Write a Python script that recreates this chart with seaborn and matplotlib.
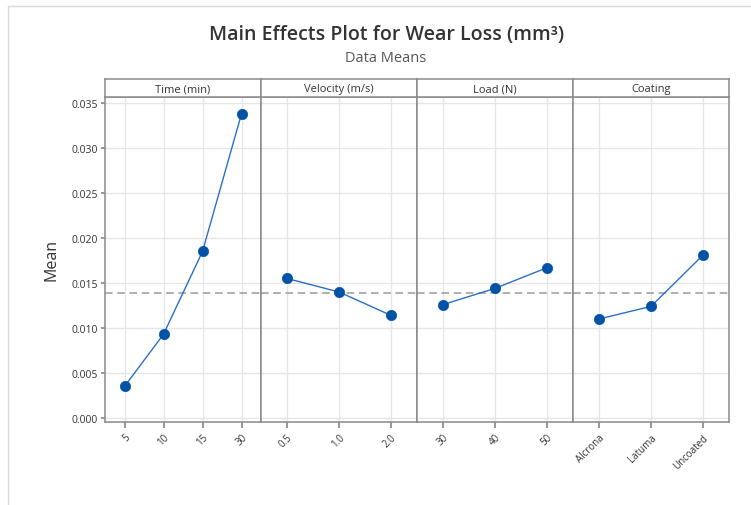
import matplotlib
matplotlib.use("Agg")
import matplotlib.pyplot as plt
import seaborn as sns
import pandas as pd
from matplotlib.lines import Line2D

# ---- data ----
factors = ["Time (min)", "Velocity (m/s)", "Load (N)", "Coating"]
time_levels = ["5", "10", "15", "30"]
time_means = [0.0035, 0.0093, 0.0185, 0.0338]
velocity_levels = ["0.5", "1.0", "2.0"]
velocity_means = [0.0155, 0.0140, 0.0114]
load_levels = ["30", "40", "50"]
load_means = [0.0126, 0.0144, 0.0167]
coating_levels = ["Alcrona", "Latuma", "Uncoated"]
coating_means = [0.0110, 0.0124, 0.0181]
grand_mean = 0.0139
y_ticks = [0.000, 0.005, 0.010, 0.015, 0.020, 0.025, 0.030, 0.035]

levels = [time_levels, velocity_levels, load_levels, coating_levels]
means = [time_means, velocity_means, load_means, coating_means]

rows = []
for f, lv, mv in zip(factors, levels, means):
    for l, m in zip(lv, mv):
        rows.append({"factor": f, "level": l, "mean": m})
df = pd.DataFrame(rows)

sns.set_theme(style="white")
plt.rcParams["font.family"] = ["Open Sans", "DejaVu Sans"]

W, H = 751, 506
fig = plt.figure(figsize=(W / 100, H / 100), dpi=100)

# outer frame lines
fig.add_artist(Line2D([8 / W, 8 / W], [0, 1 - 7 / H], color="#d9d9d9", lw=1))
fig.add_artist(Line2D([8 / W, 1], [1 - 7 / H, 1 - 7 / H], color="#d9d9d9", lw=1))

left_px, right_px = 105, 729
top_px, bottom_px = 98, 423
strip_top = 80
pw = (right_px - left_px) / 4
frame_col = "#8a8a8a"
grid_col = "#e6e6e6"
ymin, ymax = -0.00045, 0.03567

axes = []
for i, f in enumerate(factors):
    x0 = (left_px + i * pw) / W
    ax = fig.add_axes([x0, 1 - bottom_px / H, pw / W, (bottom_px - top_px) / H])
    sub = df[df["factor"] == f]
    ax.axhline(grand_mean, color="#9a9a9a", ls=(0, (5, 3)), lw=1.1, zorder=1)
    sns.lineplot(data=sub, x="level", y="mean", ax=ax, color="#2a6fc4",
                 lw=1.0, sort=False, zorder=2)
    sns.scatterplot(data=sub, x="level", y="mean", ax=ax, color="#0052a5",
                    s=55, edgecolor="#0052a5", linewidth=0.5, zorder=3)
    n = len(sub)
    ax.set_xlim(-0.5, n - 0.5)
    ax.set_ylim(ymin, ymax)
    ax.set_yticks(y_ticks)
    ax.set_xticks(range(n))
    ax.set_xticklabels(list(sub["level"]), rotation=45, ha="right",
                       rotation_mode="anchor", fontsize=7, color="#333333")
    ax.grid(True, color=grid_col, lw=1)
    ax.set_axisbelow(True)
    ax.set_xlabel("")
    ax.set_ylabel("")
    for s in ax.spines.values():
        s.set_color(frame_col)
        s.set_linewidth(1.1)
    ax.tick_params(axis="x", length=4, color=frame_col, pad=3, bottom=True)
    if i == 0:
        ax.set_yticklabels([f"{v:.3f}" for v in y_ticks], fontsize=7.5, color="#333333")
        ax.tick_params(axis="y", length=3, color=frame_col, pad=2, left=True)
    else:
        ax.tick_params(axis="y", left=False, labelleft=False)
    # strip
    sax = fig.add_axes([x0, 1 - top_px / H, pw / W, (top_px - strip_top) / H])
    sax.set_xticks([])
    sax.set_yticks([])
    sax.set_facecolor("white")
    for s in sax.spines.values():
        s.set_color(frame_col)
        s.set_linewidth(1.1)
    sax.text(0.5, 0.45, f, ha="center", va="center", fontsize=8, color="#333333",
             transform=sax.transAxes)
    axes.append(ax)

fig.text(52 / W, 1 - 260 / H, "Mean", rotation=90, ha="center", va="center",
         fontsize=11.5, color="#333333")
fig.text(387 / W, 1 - 35 / H,
         "Main Effects Plot for Wear Loss (mm³)", ha="center", va="center",
         fontsize=14, fontweight="semibold", color="#333333")
fig.text(386 / W, 1 - 58 / H, "Data Means", ha="center",
         va="center", fontsize=10.5, color="#555555")

fig.savefig("out.png", dpi=100)
